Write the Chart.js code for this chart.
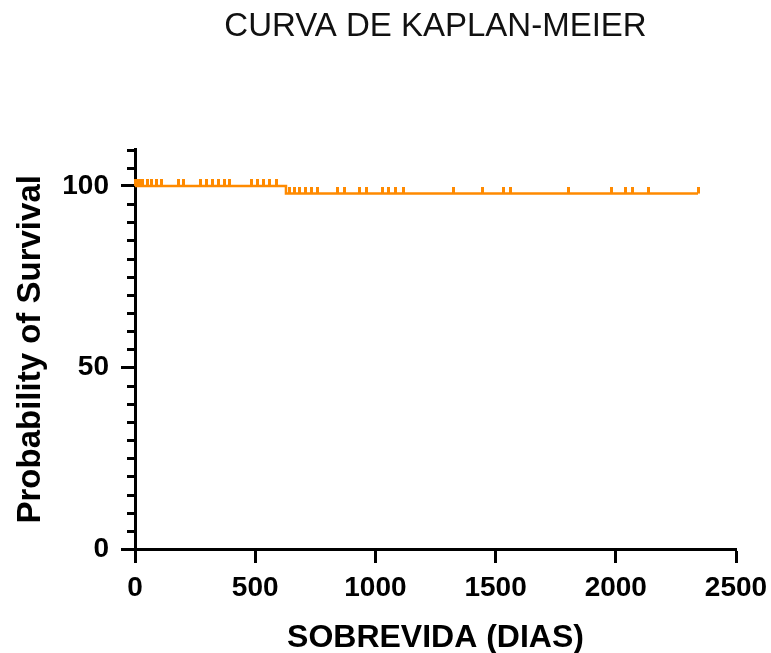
<!DOCTYPE html>
<html>
<head>
<meta charset="utf-8">
<script src="https://cdn.jsdelivr.net/npm/chart.js@4.4.1/dist/chart.umd.min.js"></script>
<style>
    html, body { margin: 0; padding: 0; background: #fff; }
    #wrap { width: 771px; height: 653px; }
</style>
</head>
<body>
<div id="wrap"><canvas id="kmCanvas" width="771" height="653"></canvas></div>
<script>
// Kaplan-Meier curve (days, % survival)
const kmDays = [0, 628, 2342];
const kmSurvival = [100, 97.9, 97.9];

// censored patients
const censoredDaysAt100 = [3, 8, 13, 18, 24, 30, 51, 68, 89, 109, 180, 201, 271, 296, 321, 346, 371, 392, 483, 508, 533, 558, 587];
const censoredDaysAt979 = [641, 662, 683, 708, 733, 758, 841, 870, 932, 961, 1028, 1053, 1082, 1115, 1323, 1444, 1531, 1564, 1805, 1984, 2042, 2071, 2134, 2342];

const yLabelValues = [0, 50, 100];

const orange = '#FF8A00';
const fontFamily = "'Liberation Sans', Arial, Helvetica, sans-serif";

// censor mark: short vertical tick going up from the point
const censorMark = document.createElement('canvas');
censorMark.width = 3;
censorMark.height = 14;
const cm = censorMark.getContext('2d');
cm.fillStyle = orange;
cm.fillRect(0, 0, 3, 7);

const censorPoints = censoredDaysAt100.map(d => ({ x: d, y: 100 }))
    .concat(censoredDaysAt979.map(d => ({ x: d, y: 97.9 })));

const minorTicks = {
    id: 'minorTicks',
    afterDraw(chart) {
        const y = chart.scales.y;
        const ctx = chart.ctx;
        ctx.save();
        ctx.strokeStyle = '#000';
        ctx.lineWidth = 3;
        for (let v = 5; v <= y.max; v += 5) {
            if (yLabelValues.includes(v)) continue;
            const py = Math.round(y.getPixelForValue(v)) + 0.5;
            ctx.beginPath();
            ctx.moveTo(y.right - 8, py);
            ctx.lineTo(y.right, py);
            ctx.stroke();
        }
        ctx.restore();
    }
};

new Chart(document.getElementById('kmCanvas').getContext('2d'), {
    type: 'scatter',
    data: {
        datasets: [
            {
                label: 'Survival',
                data: kmDays.map((d, i) => ({ x: d, y: kmSurvival[i] })),
                showLine: true,
                stepped: 'before',
                borderColor: orange,
                borderWidth: 2.5,
                pointRadius: 0,
                clip: false
            },
            {
                label: 'Censored',
                data: censorPoints,
                showLine: false,
                pointStyle: censorMark,
                clip: false
            }
        ]
    },
    options: {
        responsive: false,
        animation: false,
        layout: { padding: { left: 0, right: 35, top: 0, bottom: 0 } },
        plugins: {
            legend: { display: false },
            tooltip: { enabled: false },
            title: {
                display: true,
                text: 'CURVA DE KAPLAN-MEIER',
                fullSize: false,
                color: '#111',
                font: { family: fontFamily, size: 33, weight: 'normal' },
                padding: { top: 7, bottom: 103 }
            }
        },
        scales: {
            x: {
                type: 'linear',
                min: 0,
                max: 2500,
                afterFit(scale) {
                    scale.height = 104;
                    scale.paddingLeft = 0;
                    scale.paddingRight = 0;
                },
                ticks: {
                    stepSize: 500,
                    color: '#000',
                    padding: 8,
                    maxRotation: 0,
                    font: { family: fontFamily, size: 28, weight: 'bold' },
                    callback: v => String(v)
                },
                grid: { drawOnChartArea: false, tickLength: 14, tickWidth: 3, tickColor: '#000' },
                border: { display: true, color: '#000', width: 3 },
                title: {
                    display: true,
                    text: 'SOBREVIDA (DIAS)',
                    color: '#000',
                    font: { family: fontFamily, size: 32, weight: 'bold' },
                    padding: { top: 0, bottom: -4 }
                }
            },
            y: {
                type: 'linear',
                min: 0,
                max: 110,
                afterFit(scale) {
                    scale.width = 135;
                    scale.paddingTop = 0;
                    scale.paddingBottom = 0;
                },
                ticks: {
                    stepSize: 5,
                    autoSkip: false,
                    color: '#000',
                    padding: 12,
                    font: { family: fontFamily, size: 28, weight: 'bold' },
                    callback: v => yLabelValues.includes(v) ? String(v) : ''
                },
                grid: {
                    drawOnChartArea: false,
                    tickLength: 14,
                    tickWidth: 3,
                    tickColor: ctx => yLabelValues.includes(ctx.tick.value) ? '#000' : 'rgba(0,0,0,0)'
                },
                border: { display: true, color: '#000', width: 3 },
                title: {
                    display: true,
                    text: 'Probability of Survival',
                    color: '#000',
                    font: { family: fontFamily, size: 33, weight: 'bold' },
                    padding: { top: 11, bottom: 0 }
                }
            }
        }
    },
    plugins: [minorTicks]
});
</script>
</body>
</html>
